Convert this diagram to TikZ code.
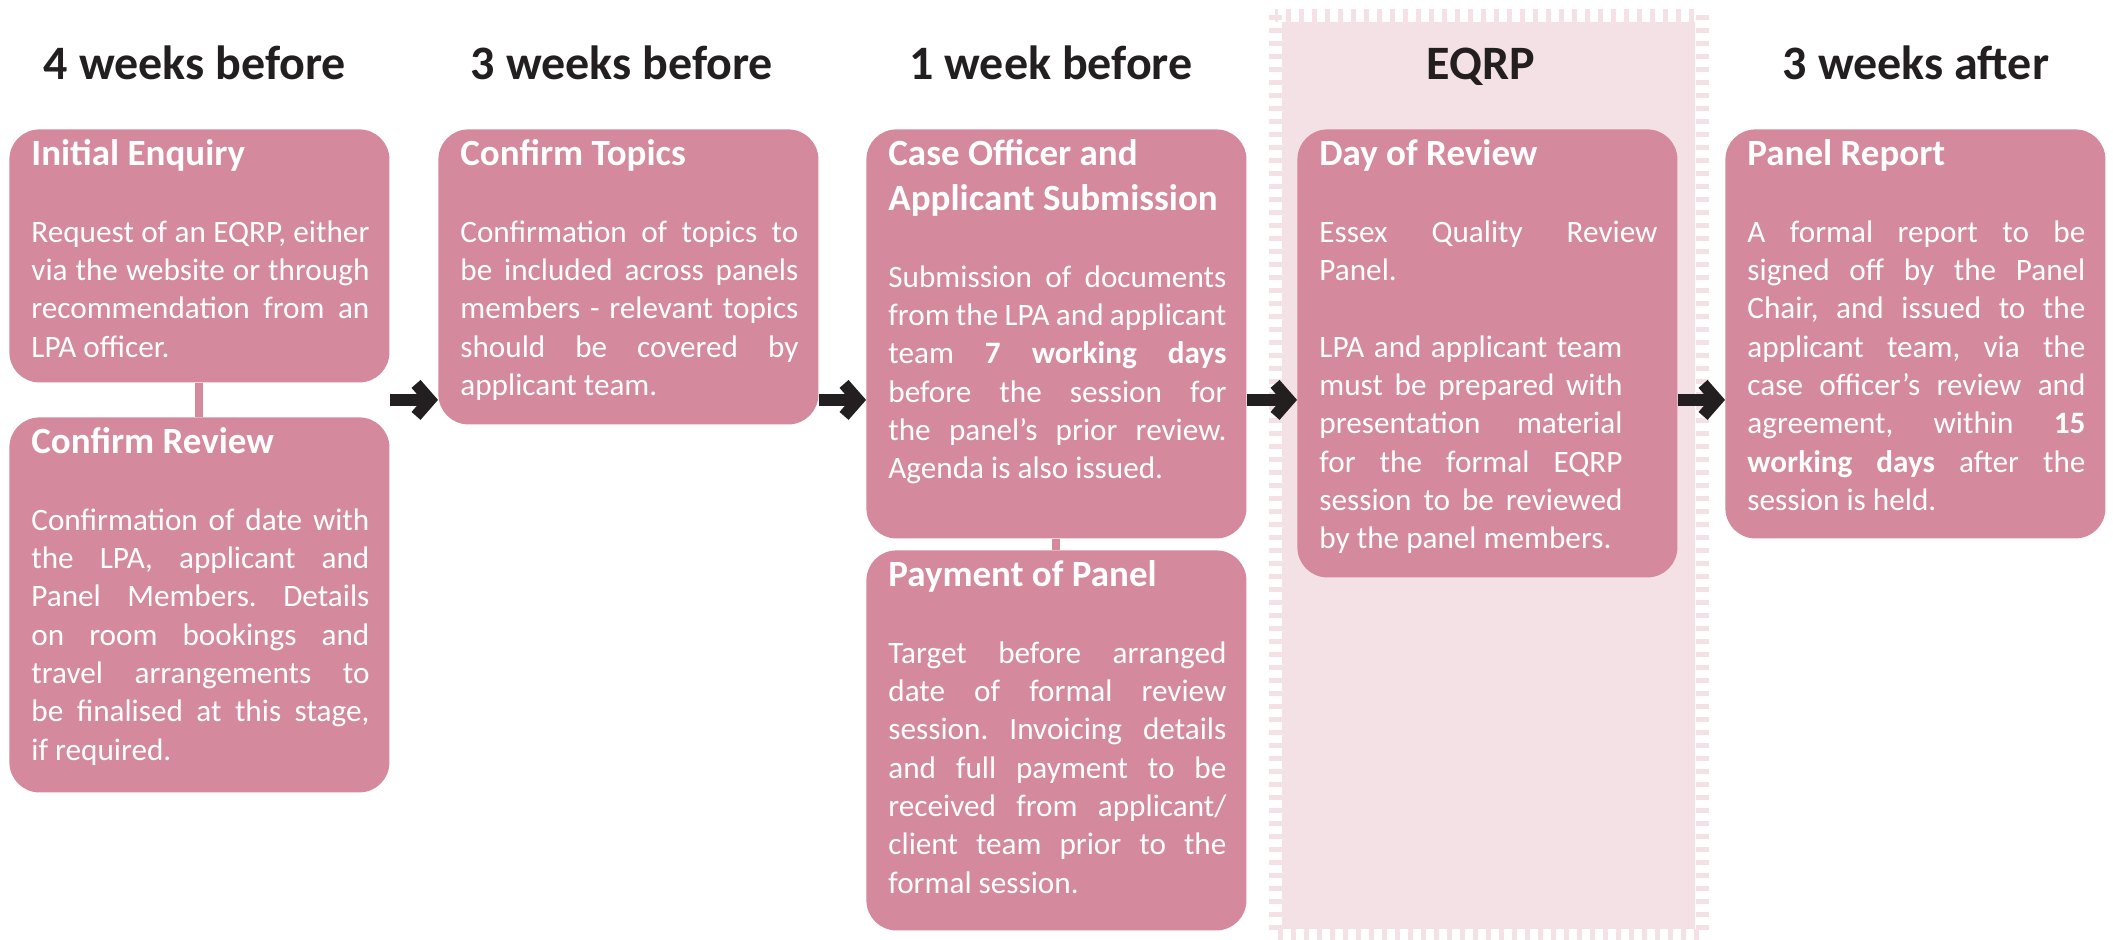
\documentclass[tikz,border=0pt]{standalone}
\usepackage{fontspec}
\setmainfont{Carlito}[WordSpace={1,1,1.6}]
\usetikzlibrary{arrows.meta,calc}

\definecolor{cardpink}{RGB}{212,137,157}
\definecolor{bandpink}{RGB}{244,225,230}
\definecolor{inkblack}{RGB}{35,31,32}

\tolerance=10000
\hbadness=10000
\frenchspacing

% stage card text: height, title, body
\newcommand{\stagetext}[3]{\hspace{1pt}\parbox[t][#1][t]{169pt}{%
  {\fontsize{18.5}{22.5}\selectfont\bfseries\vrule height 18pt depth 0pt width 0pt #2\par}%
  \vspace{19.3pt}#3}}

\tikzset{
  card/.style={fill=cardpink, rounded corners=15pt, text=white, inner xsep=10pt, inner ysep=0pt,
    anchor=north west, font=\fontsize{15.6}{19.15}\selectfont},
  heading/.style={anchor=base, text=inkblack, font=\fontsize{24}{28}\selectfont\bfseries},
  flow/.style={draw=inkblack, line width=6pt, miter limit=10, -{Straight Barb[length=7pt,width=16pt]}},
  link/.style={draw=cardpink, line width=4pt}
}

\begin{document}
\begin{tikzpicture}[x=0.5pt, y=-0.5pt]
\useasboundingbox (0,0) rectangle (2113,939);

% EQRP band
\fill[bandpink] (1282,22) rectangle (1695,929);
\draw[bandpink, line width=6.5pt, dash pattern=on 2.5pt off 4pt] (1275,15) rectangle (1702,935);

% headings
\node[heading] (wk4) at (195,79) {4 weeks before};
\node[heading] (wk3) at (622,79) {3 weeks before};
\node[heading] (wk1) at (1051,79) {1 week before};
\node[heading] (eqrp) at (1481,79) {EQRP};
\node[heading] (after) at (1916,79) {3 weeks after};

% stage cards
\node[card] (enquiry) at (9,129) {\stagetext{126.5pt}{Initial Enquiry}{%
Request of an EQRP, either\linebreak via the website or through\linebreak recommendation from an\linebreak LPA officer.}};
\node[card] (review) at (9,417) {\stagetext{187.5pt}{Confirm Review}{%
Confirmation of date with\linebreak the LPA, applicant and\linebreak Panel Members. Details\linebreak on room bookings and\linebreak travel arrangements to\linebreak be finalised at this stage,\linebreak if required.}};
\node[card] (topics) at (438,129) {\stagetext{147.5pt}{Confirm Topics}{%
Confirmation of topics to\linebreak be included across panels\linebreak members - relevant topics\linebreak should be covered by\linebreak applicant team.}};
\node[card] (submission) at (866,129) {\stagetext{204.5pt}{Case Officer and\\ Applicant Submission}{%
Submission of documents\linebreak from the LPA and applicant\linebreak team \textbf{7 working days}\linebreak before the session for\linebreak the panel’s prior review.\linebreak Agenda is also issued.}};
\node[card] (payment) at (866,550) {\stagetext{190pt}{Payment of Panel}{%
Target before arranged\linebreak date of formal review\linebreak session. Invoicing details\linebreak and full payment to be\linebreak received from applicant/\linebreak client team prior to the\linebreak formal session.}};
\node[card] (dayreview) at (1297,129) {\stagetext{224pt}{Day of Review}{%
Essex Quality Review\linebreak Panel.\par\vspace{19.15pt}
{\rightskip=17.5pt LPA and applicant team\linebreak must be prepared with\linebreak presentation material\linebreak for the formal EQRP\linebreak session to be reviewed\linebreak by the panel members.\par}}};
\node[card] (report) at (1725,129) {\stagetext{204.5pt}{Panel Report}{%
A formal report to be\linebreak signed off by the Panel\linebreak Chair, and issued to the\linebreak applicant team, via the\linebreak case officer’s review and\linebreak agreement, within \textbf{15}\linebreak \textbf{working days} after the\linebreak session is held.}};

% links and arrows
\draw[link] (enquiry.south) -- (review.north);
\draw[link] (submission.south) -- (payment.north);
\coordinate (mid) at ($(enquiry.south east)!.5!(review.north east)$);
\draw[flow] (mid) -- (mid -| topics.west);
\draw[flow] (mid -| topics.east) -- (mid -| submission.west);
\draw[flow] (mid -| submission.east) -- (mid -| dayreview.west);
\draw[flow] (mid -| dayreview.east) -- (mid -| report.west);
\end{tikzpicture}
\end{document}
